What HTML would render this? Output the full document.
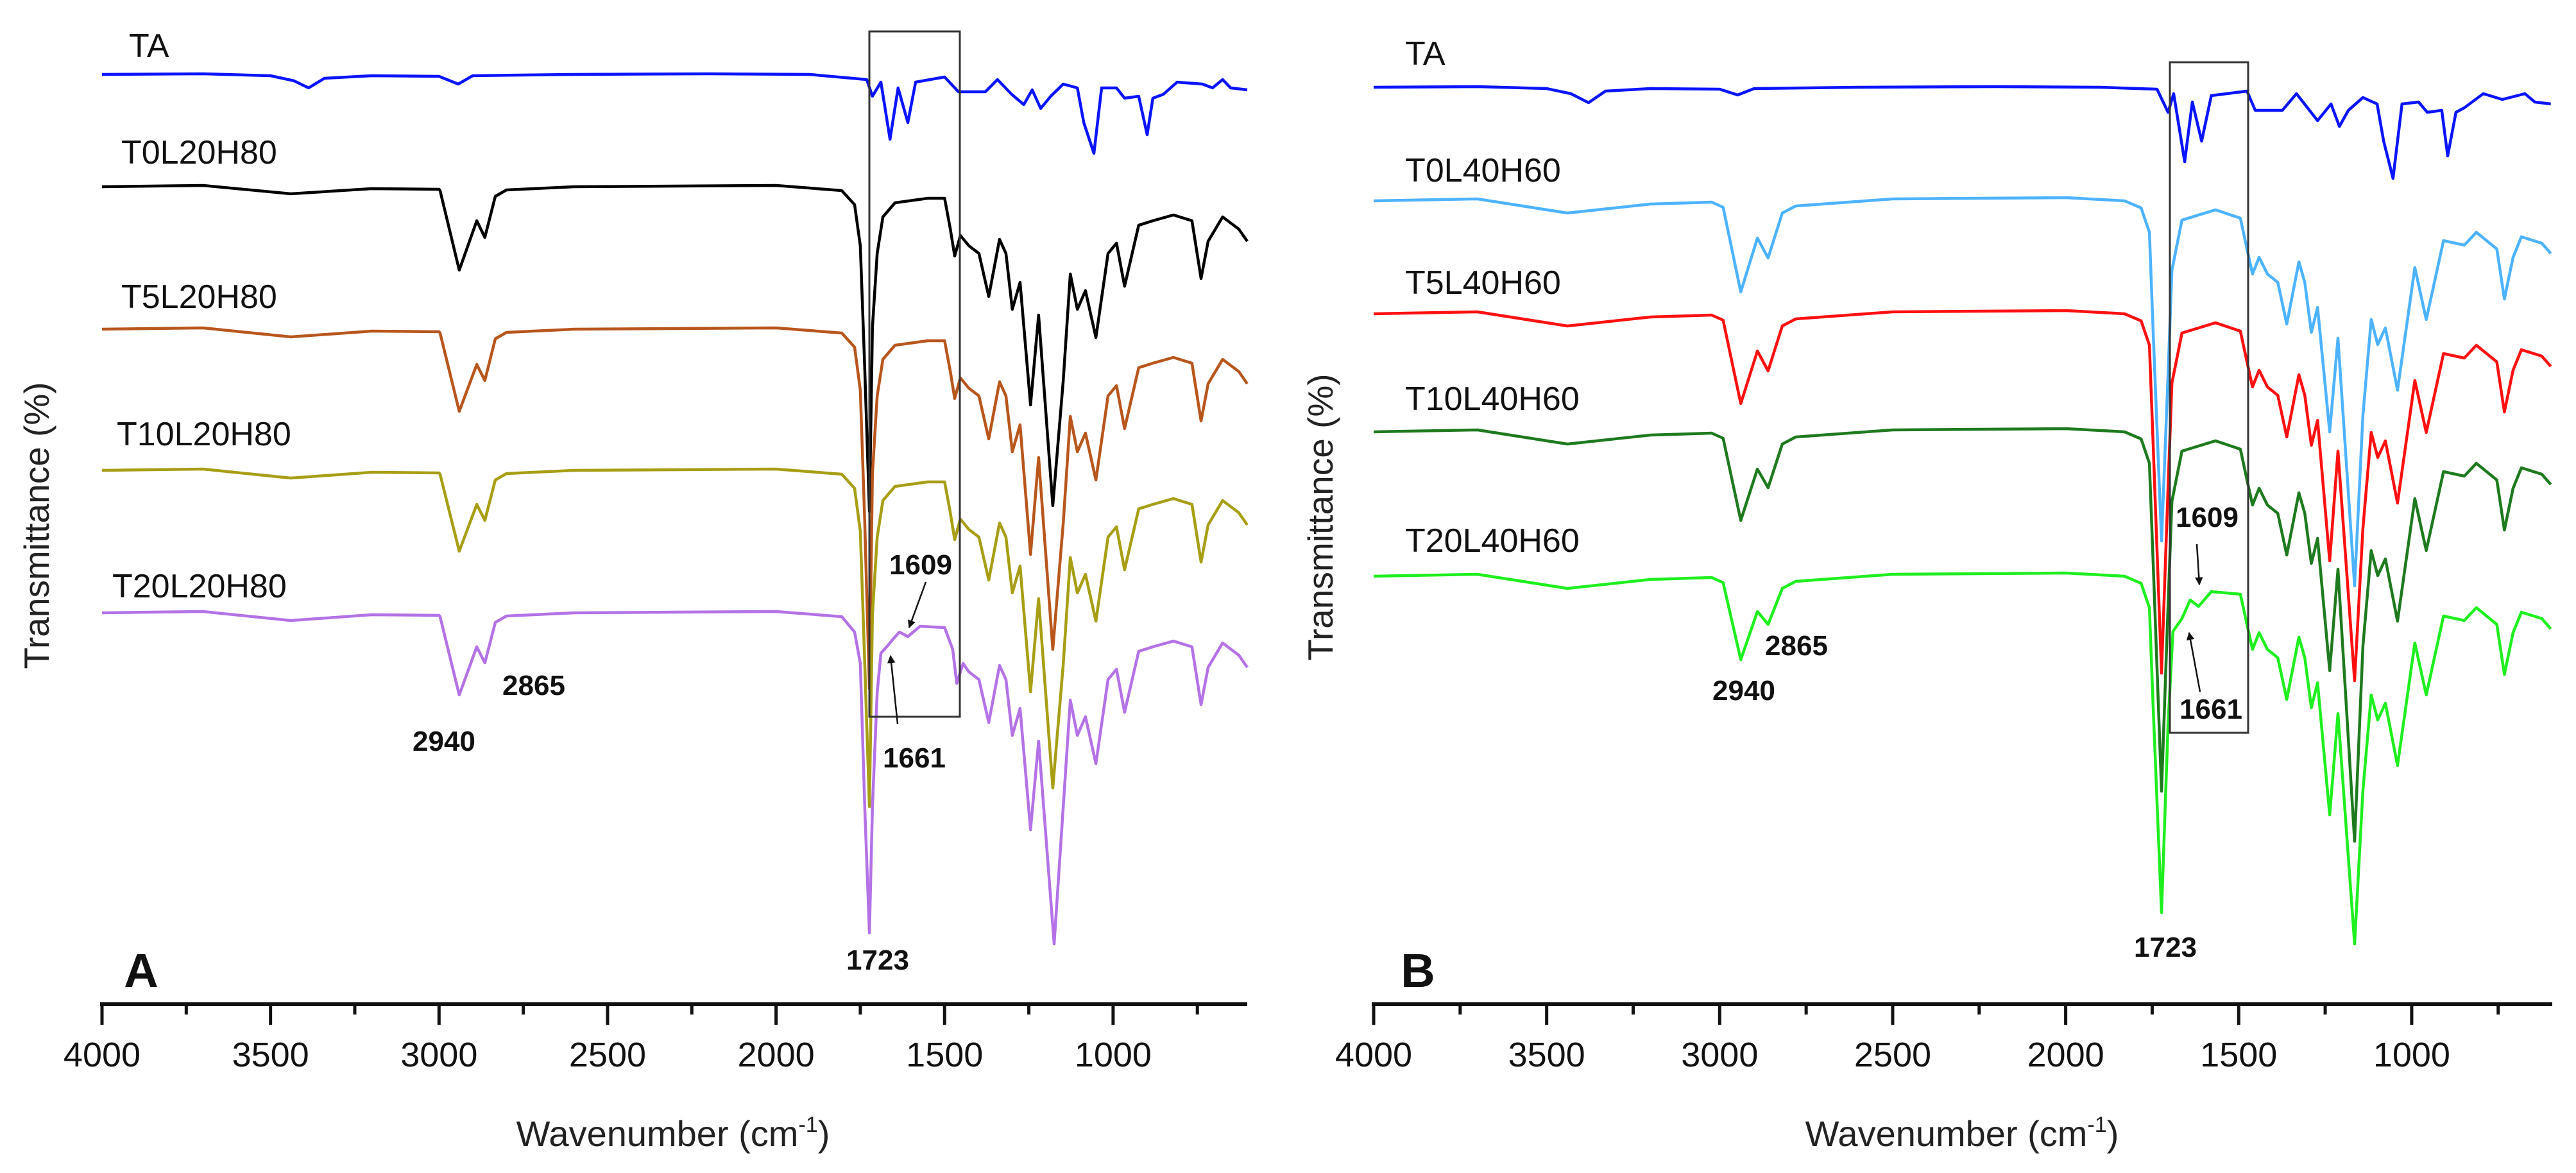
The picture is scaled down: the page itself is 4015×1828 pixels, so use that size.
<!DOCTYPE html>
<html><head><meta charset="utf-8"><title>FTIR spectra</title>
<style>
html,body{margin:0;padding:0;background:#fff;}
svg{display:block;}
text{font-family:"Liberation Sans",Arial,sans-serif;}
</style></head>
<body>
<svg id="chart" width="4015" height="1828" viewBox="0 0 4015 1828" xmlns="http://www.w3.org/2000/svg">
<rect x="0" y="0" width="4015" height="1828" fill="#fff"/>
<g id="panelA"></g>
<g id="panelB"></g>
</svg>
<script>
// ---------- data ----------
const tickValues = [4000, 3500, 3000, 2500, 2000, 1500, 1000];
const minorTickValues = [3750, 3250, 2750, 2250, 1750, 1250, 750];
const seriesNamesA = ["TA", "T0L20H80", "T5L20H80", "T10L20H80", "T20L20H80"];
const seriesNamesB = ["TA", "T0L40H60", "T5L40H60", "T10L40H60", "T20L40H60"];
const seriesColorsA = ["#0a14ff", "#000000", "#b8561c", "#a89e14", "#b472e6"];
const seriesColorsB = ["#0a14ff", "#4db3ff", "#ff1010", "#1e7a1e", "#1eef1e"];
const offsetsA = [1449, 1274, 1052, 832, 610];
const offsetsB = [1429, 1252, 1076, 892, 667];

const specA_TA = [[4000,0],[3700,-1],[3500,2],[3430,10],[3387,21],[3340,6],[3200,2],[3000,3],[2943,15],[2900,2],[2600,0],[2200,-1],[1900,0],[1731,8],[1714,34],[1689,12],[1662,101],[1638,21],[1609,75],[1586,12],[1500,4],[1459,27],[1379,27],[1343,8],[1301,31],[1265,47],[1240,24],[1215,53],[1185,34],[1148,15],[1106,21],[1087,75],[1057,123],[1034,21],[990,21],[966,37],[924,34],[899,94],[882,37],[851,31],[810,12],[735,15],[705,21],[675,8],[651,21],[602,24]];
const specA_T0 = [[4000,0],[3700,-2],[3440,11],[3200,3],[3000,4],[2997,6],[2940,130],[2888,53],[2864,79],[2833,15],[2800,5],[2600,0],[2000,-2],[1805,6],[1767,28],[1750,92],[1737,283],[1723,506],[1714,219],[1700,104],[1683,47],[1647,25],[1550,18],[1500,18],[1483,66],[1470,108],[1453,76],[1428,92],[1398,104],[1369,171],[1337,82],[1318,104],[1299,191],[1276,149],[1245,340],[1221,200],[1179,497],[1148,302],[1127,136],[1106,191],[1082,162],[1051,235],[1015,104],[990,88],[966,155],[924,60],[882,53],[821,44],[766,53],[739,143],[718,85],[675,47],[627,66],[602,85]];
const specA_T5 = [[4000,0],[3700,-2],[3440,12],[3200,3],[3000,4],[2997,6],[2940,128],[2888,55],[2864,80],[2833,15],[2800,5],[2600,0],[2000,-2],[1805,6],[1767,28],[1750,95],[1737,300],[1723,560],[1714,225],[1700,104],[1683,47],[1647,25],[1550,18],[1500,18],[1483,66],[1470,108],[1453,76],[1428,92],[1398,104],[1369,171],[1337,82],[1318,104],[1299,191],[1276,149],[1245,351],[1221,200],[1179,499],[1148,302],[1127,136],[1106,191],[1082,162],[1051,235],[1015,104],[990,88],[966,155],[924,60],[882,53],[821,44],[766,53],[739,143],[718,85],[675,47],[627,66],[602,85]];
const specA_T10 = [[4000,0],[3700,-2],[3440,12],[3200,3],[3000,4],[2997,6],[2940,126],[2888,53],[2864,78],[2833,15],[2800,5],[2600,0],[2000,-2],[1805,6],[1767,28],[1750,95],[1737,300],[1723,524],[1714,225],[1700,104],[1683,47],[1647,25],[1550,18],[1500,18],[1483,66],[1470,108],[1453,76],[1428,92],[1398,104],[1369,171],[1337,82],[1318,104],[1299,191],[1276,149],[1245,345],[1221,200],[1179,495],[1148,302],[1127,136],[1106,191],[1082,162],[1051,235],[1015,104],[990,88],[966,155],[924,60],[882,53],[821,44],[766,53],[739,143],[718,85],[675,47],[627,66],[602,85]];
const specA_T20 = [[4000,0],[3700,-2],[3440,12],[3200,3],[3000,4],[2997,6],[2940,128],[2888,53],[2864,78],[2833,15],[2800,5],[2600,0],[2000,-2],[1805,6],[1767,30],[1750,79],[1737,302],[1723,499],[1714,302],[1700,124],[1689,63],[1670,52],[1653,41],[1634,30],[1609,37],[1573,21],[1500,23],[1476,57],[1464,110],[1445,79],[1428,92],[1398,104],[1369,171],[1337,82],[1318,104],[1299,191],[1276,149],[1245,338],[1221,200],[1175,516],[1148,302],[1127,136],[1106,191],[1082,162],[1051,235],[1015,104],[990,88],[966,155],[924,60],[882,53],[821,44],[766,53],[739,143],[718,85],[675,47],[627,66],[602,85]];

const specB_TA = [[4000,0],[3700,-1],[3500,2],[3430,10],[3379,24],[3330,6],[3200,2],[3000,3],[2948,12],[2900,2],[2600,0],[2200,-1],[1900,0],[1736,3],[1704,39],[1688,10],[1656,116],[1634,23],[1607,84],[1579,13],[1476,6],[1452,36],[1374,36],[1333,10],[1272,52],[1233,26],[1209,61],[1183,36],[1141,16],[1100,26],[1081,84],[1054,142],[1028,26],[980,23],[955,39],[913,36],[896,107],[872,39],[848,32],[793,10],[738,19],[673,10],[644,23],[598,26]];
const specB_T0 = [[4000,0],[3700,-3],[3440,19],[3200,5],[3023,2],[2990,10],[2939,142],[2891,58],[2860,89],[2819,19],[2780,8],[2500,-3],[2000,-5],[1830,0],[1782,11],[1758,49],[1747,205],[1723,530],[1704,270],[1693,108],[1664,30],[1567,14],[1495,27],[1476,75],[1460,114],[1441,88],[1417,114],[1387,127],[1361,192],[1326,95],[1309,127],[1290,205],[1272,166],[1237,360],[1213,214],[1165,600],[1141,334],[1117,185],[1098,224],[1076,198],[1041,295],[991,104],[958,185],[908,62],[848,69],[813,49],[754,75],[732,153],[707,88],[683,56],[624,66],[598,82]];
const specB_T5 = [[4000,0],[3700,-3],[3440,19],[3200,5],[3023,2],[2990,10],[2939,140],[2891,58],[2860,89],[2819,19],[2780,8],[2500,-3],[2000,-5],[1830,0],[1782,11],[1758,49],[1747,205],[1723,560],[1704,270],[1693,108],[1664,30],[1567,14],[1495,27],[1476,75],[1460,114],[1441,88],[1417,114],[1387,127],[1361,192],[1326,95],[1309,127],[1290,205],[1272,166],[1237,385],[1213,214],[1165,572],[1141,334],[1117,185],[1098,224],[1076,198],[1041,295],[991,104],[958,185],[908,62],[848,69],[813,49],[754,75],[732,153],[707,88],[683,56],[624,66],[598,82]];
const specB_T10 = [[4000,0],[3700,-3],[3440,19],[3200,5],[3023,2],[2990,10],[2939,138],[2891,58],[2860,87],[2819,19],[2780,8],[2500,-3],[2000,-5],[1830,0],[1782,11],[1758,49],[1747,205],[1723,560],[1704,270],[1693,108],[1664,30],[1567,14],[1495,27],[1476,75],[1460,114],[1441,88],[1417,114],[1387,127],[1361,192],[1326,95],[1309,127],[1290,205],[1272,166],[1237,372],[1213,214],[1165,638],[1141,334],[1117,185],[1098,224],[1076,198],[1041,295],[991,104],[958,185],[908,62],[848,69],[813,49],[754,75],[732,153],[707,88],[683,56],[624,66],[598,82]];
const specB_T20 = [[4000,0],[3700,-3],[3440,19],[3200,5],[3023,2],[2990,10],[2939,130],[2891,55],[2860,75],[2819,19],[2780,8],[2500,-3],[2000,-5],[1830,0],[1782,11],[1758,49],[1747,205],[1723,524],[1704,230],[1690,86],[1664,66],[1640,37],[1616,47],[1579,24],[1495,28],[1476,75],[1460,114],[1441,88],[1417,114],[1387,127],[1361,192],[1326,95],[1309,127],[1290,205],[1272,166],[1237,372],[1213,214],[1165,573],[1141,334],[1117,185],[1098,224],[1076,198],[1041,295],[991,104],[958,185],[908,62],[848,69],[813,49],[754,75],[732,153],[707,88],[683,56],[624,66],[598,82]];

const seriesA = [specA_TA, specA_T0, specA_T5, specA_T10, specA_T20];
const seriesB = [specB_TA, specB_T0, specB_T5, specB_T10, specB_T20];

// ---------- layout / scales ----------
const NS = "http://www.w3.org/2000/svg";
const AXIS_Y = 1565;
const panelCfg = {
  A: {x0: 159, pxPerCm: 0.5253, xEnd: 1944},
  B: {x0: 2141, pxPerCm: 0.5393, xEnd: 3978}
};
function xScale(p, wn) { return panelCfg[p].x0 + (4000 - wn) * panelCfg[p].pxPerCm; }
function yScale(offset, depth) { return AXIS_Y - (offset - depth); }

function mk(tag, attrs, parent) {
  const el = document.createElementNS(NS, tag);
  for (const k in attrs) el.setAttribute(k, attrs[k]);
  parent.appendChild(el);
  return el;
}

function drawPanel(p, g, series, offsets, colors) {
  series.forEach((s, i) => {
    const pts = s.map(d => xScale(p, d[0]).toFixed(1) + "," + yScale(offsets[i], d[1]).toFixed(1)).join(" ");
    const pl = mk("polyline", {points: pts, fill: "none", stroke: colors[i], "stroke-width": 4.5, "stroke-linejoin": "round"}, g);
    
    
  });
  // axis line
  const ax = mk("line", {x1: panelCfg[p].x0 - 3, y1: AXIS_Y, x2: panelCfg[p].xEnd, y2: AXIS_Y, stroke: "#111", "stroke-width": 6}, g);
  
  
  tickValues.forEach(v => {
    const x = xScale(p, v);
    const t = mk("line", {x1: x, y1: AXIS_Y, x2: x, y2: AXIS_Y + 32, stroke: "#111", "stroke-width": 5}, g);
    
    
    const lb = mk("text", {x: x, y: 1662, "font-size": 54, "text-anchor": "middle", fill: "#111"}, g);
    lb.textContent = v;
    
    
  });
  minorTickValues.forEach(v => {
    const x = xScale(p, v);
    const t = mk("line", {x1: x, y1: AXIS_Y, x2: x, y2: AXIS_Y + 16, stroke: "#111", "stroke-width": 5}, g);
    
    
  });
}

drawPanel("A", document.getElementById("panelA"), seriesA, offsetsA, seriesColorsA);
drawPanel("B", document.getElementById("panelB"), seriesB, offsetsB, seriesColorsB);

// series name labels
const labelYA = [89, 255, 480, 694, 931];
const labelXA = [201, 189, 189, 182, 175];
const labelYB = [101, 283, 458, 639, 860];
const labelXB = [2190, 2190, 2190, 2190, 2190];
function drawNames(gid, names, xs, ys) {
  const g = document.getElementById(gid);
  names.forEach((n, i) => {
    const t = mk("text", {x: xs[i], y: ys[i], "font-size": 52, fill: "#111"}, g);
    t.textContent = n;
    
    
  });
}
drawNames("panelA", seriesNamesA, labelXA, labelYA);
drawNames("panelB", seriesNamesB, labelXB, labelYB);
</script>

<svg style="position:absolute;left:0;top:0" width="4015" height="1828" viewBox="0 0 4015 1828" xmlns="http://www.w3.org/2000/svg">
<defs>
<marker id="ah" viewBox="0 0 10 10" refX="9" refY="5" markerWidth="5" markerHeight="6" orient="auto-start-reverse">
<path d="M0,0 L10,5 L0,10 z" fill="#111"/>
</marker>
</defs>
<!-- Panel A annotations -->
<rect x="1355" y="49" width="141" height="1068" fill="none" stroke="#333" stroke-width="3"/>
<text x="692" y="1170" font-size="44" font-weight="bold" text-anchor="middle" fill="#111">2940</text>
<text x="832" y="1083" font-size="44" font-weight="bold" text-anchor="middle" fill="#111">2865</text>
<text x="1368" y="1511" font-size="44" font-weight="bold" text-anchor="middle" fill="#111">1723</text>
<text x="1425" y="1196" font-size="44" font-weight="bold" text-anchor="middle" fill="#111">1661</text>
<text x="1435" y="895" font-size="44" font-weight="bold" text-anchor="middle" fill="#111">1609</text>
<line x1="1443" y1="907" x2="1417" y2="978" stroke="#111" stroke-width="2.5" marker-end="url(#ah)"/>
<line x1="1399" y1="1128" x2="1388" y2="1022" stroke="#111" stroke-width="2.5" marker-end="url(#ah)"/>
<text x="220" y="1538" font-size="74" font-weight="bold" text-anchor="middle" fill="#111">A</text>
<text transform="translate(76,819) rotate(-90)" font-size="55" text-anchor="middle" fill="#222">Transmittance (%)</text>
<text x="1049" y="1786" font-size="56" text-anchor="middle" fill="#222">Wavenumber (cm<tspan dy="-22" font-size="34">-1</tspan><tspan dy="22">)</tspan></text>
<!-- Panel B annotations -->
<rect x="3382" y="97" width="122" height="1045" fill="none" stroke="#333" stroke-width="3"/>
<text x="2718" y="1091" font-size="44" font-weight="bold" text-anchor="middle" fill="#111">2940</text>
<text x="2800" y="1021" font-size="44" font-weight="bold" text-anchor="middle" fill="#111">2865</text>
<text x="3375" y="1491" font-size="44" font-weight="bold" text-anchor="middle" fill="#111">1723</text>
<text x="3446" y="1120" font-size="44" font-weight="bold" text-anchor="middle" fill="#111">1661</text>
<text x="3440" y="821" font-size="44" font-weight="bold" text-anchor="middle" fill="#111">1609</text>
<line x1="3424" y1="848" x2="3428" y2="911" stroke="#111" stroke-width="2.5" marker-end="url(#ah)"/>
<line x1="3429" y1="1078" x2="3412" y2="986" stroke="#111" stroke-width="2.5" marker-end="url(#ah)"/>
<text x="2210" y="1538" font-size="74" font-weight="bold" text-anchor="middle" fill="#111">B</text>
<text transform="translate(2077,806) rotate(-90)" font-size="55" text-anchor="middle" fill="#222">Transmittance (%)</text>
<text x="3058" y="1786" font-size="56" text-anchor="middle" fill="#222">Wavenumber (cm<tspan dy="-22" font-size="34">-1</tspan><tspan dy="22">)</tspan></text>
</svg>
</body></html>
